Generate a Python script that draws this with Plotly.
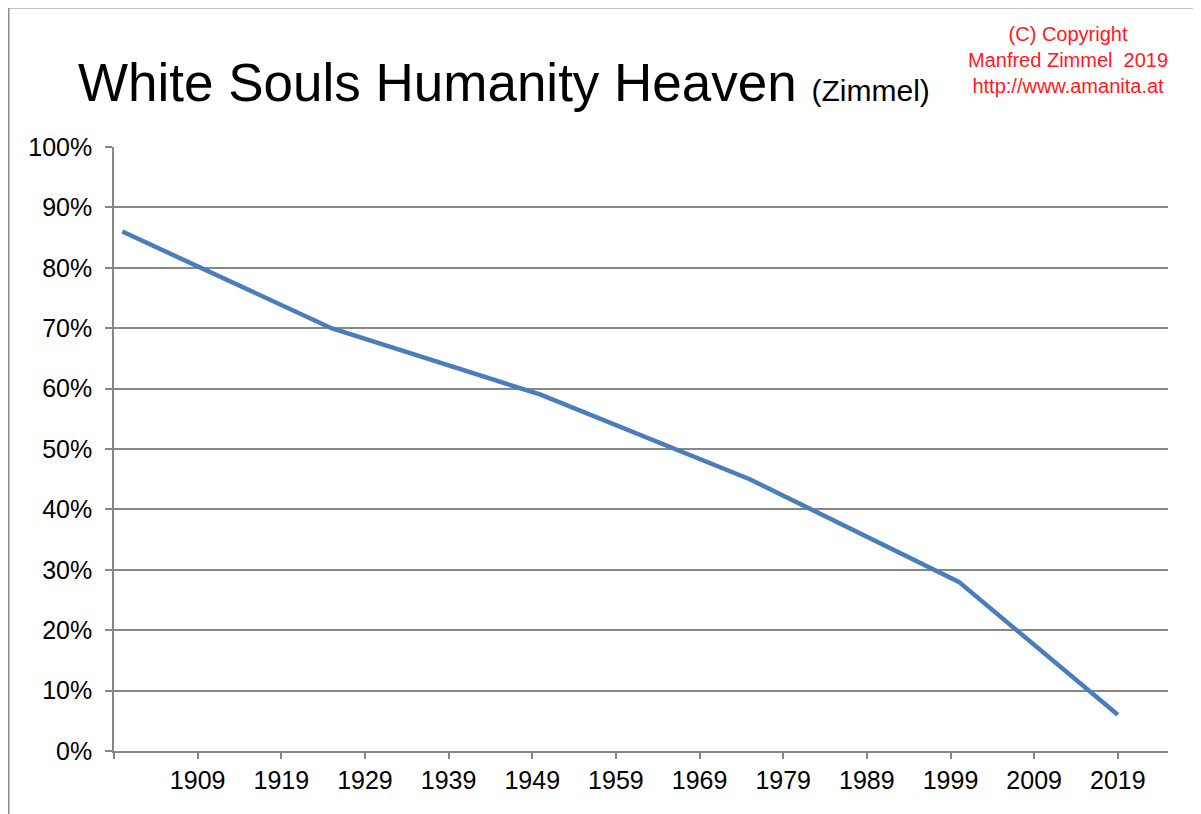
import plotly.graph_objects as go

# Data
years = [1900, 1925, 1950, 1975, 2000, 2019]
share = [0.86, 0.70, 0.59, 0.45, 0.28, 0.06]

x_tick_years = [1899, 1909, 1919, 1929, 1939, 1949, 1959, 1969, 1979, 1989, 1999, 2009, 2019]
x_tick_labels = [""] + [str(y) for y in x_tick_years[1:]]

title_main = "White Souls Humanity Heaven"
title_sub = "(Zimmel)"
copyright_lines = ["(C) Copyright", "Manfred Zimmel  2019", "http://www.amanita.at"]

OFF = 8  # page body margin
W, H = 1201 - OFF, 814 - OFF
# plot area in page pixels -> figure pixels
L, R, T, B = 114 - OFF, 1168 - OFF, 147 - OFF, 751 - OFF
GRAY = "#878787"
FONT = "Arial, Liberation Sans, sans-serif"


def px(xp):
    return (xp - OFF - L) / (R - L)


def py(yp):
    return (B - (yp - OFF)) / (B - T)


fig = go.Figure()
fig.add_trace(go.Scatter(
    x=years, y=share, mode="lines",
    line=dict(color="#4A7EBB", width=4.5),
    showlegend=False, hoverinfo="x+y",
))

fig.update_layout(
    width=W, height=H,
    margin=dict(l=L, r=W - R, t=T, b=H - B, pad=0),
    paper_bgcolor="white", plot_bgcolor="white",
    font=dict(family=FONT, color="#000000"),
    showlegend=False,
)

fig.update_xaxes(
    range=[1899, 2025],
    tickmode="array", tickvals=x_tick_years, ticktext=x_tick_labels,
    ticks="outside", ticklen=6, tickcolor=GRAY, tickwidth=1.5,
    showgrid=False, zeroline=False,
    showline=True, linecolor=GRAY, linewidth=1.5,
    tickfont=dict(size=25, family=FONT, color="#000000"),
    ticklabelstandoff=0,
)
fig.update_yaxes(
    range=[0, 1], dtick=0.1, tick0=0, tickformat=".0%",
    ticks="outside", ticklen=7, tickcolor=GRAY, tickwidth=1.5,
    showgrid=True, gridcolor=GRAY, gridwidth=1.5,
    zeroline=False,
    showline=True, linecolor=GRAY, linewidth=1.5,
    tickfont=dict(size=25, family=FONT, color="#000000"),
    ticklabelstandoff=8,
)

# Title
fig.add_annotation(
    xref="paper", yref="paper", x=px(76), y=py(83),
    xanchor="left", yanchor="middle", showarrow=False,
    text=f"{title_main} <span style='font-size:30px'>{title_sub}</span>",
    font=dict(size=53, family=FONT, color="#000000"),
)

# Copyright block
fig.add_annotation(
    xref="paper", yref="paper", x=px(1068), y=py(60),
    xanchor="center", yanchor="middle", showarrow=False, align="center",
    text="<br>".join(copyright_lines),
    font=dict(size=20, family=FONT, color="#FF1A1A"),
)

# Outer frame (left and top edges visible)
fig.add_shape(
    type="path", xref="paper", yref="paper",
    path=f"M {px(8.5)} {py(830)} L {px(8.5)} {py(7.5)} L {px(1220)} {py(7.5)}",
    line=dict(color="#8C8C8C", width=2),
)

fig.write_html("out.html")
